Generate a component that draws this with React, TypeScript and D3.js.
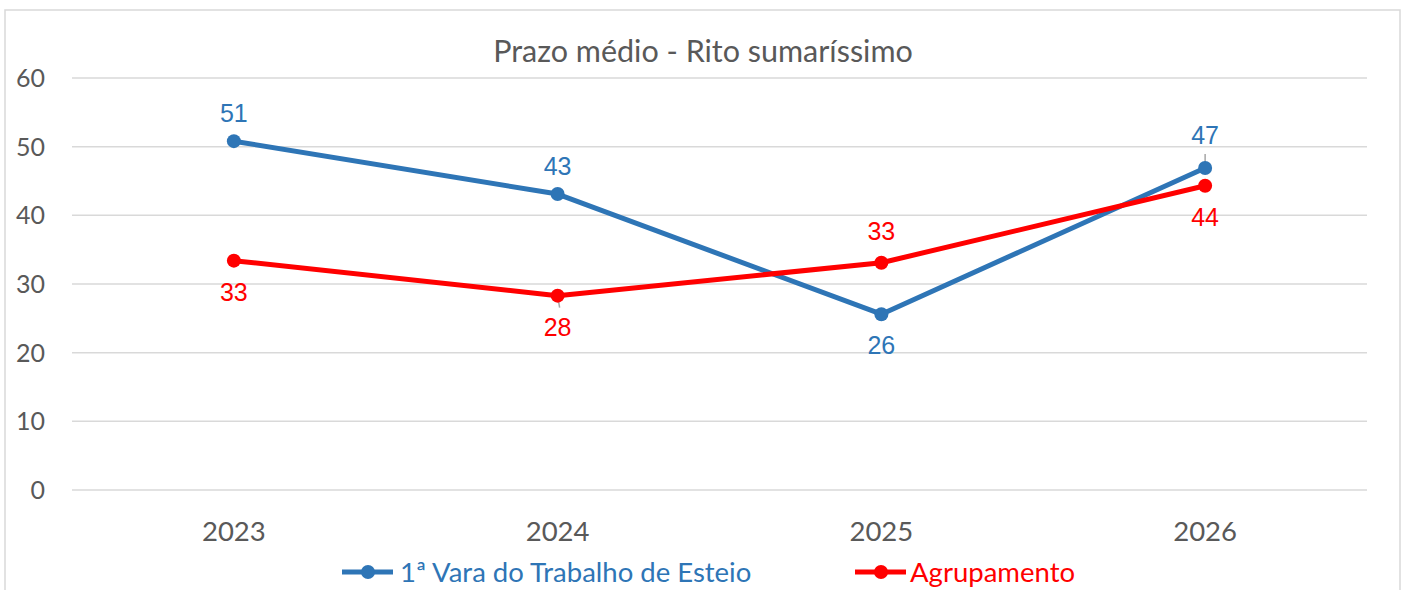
import React from "react";
import * as d3 from "d3";

const categories = ["2023", "2024", "2025", "2026"];
const seriesNames = ["1ª Vara do Trabalho de Esteio", "Agrupamento"];
const varaValues = [50.8, 43.1, 25.6, 46.9];
const agrupValues = [33.4, 28.3, 33.1, 44.3];
const varaLabels = ["51", "43", "26", "47"];
const agrupLabels = ["33", "28", "33", "44"];
const varaLabelPos = ["above", "above", "below", "above"];
const agrupLabelPos = ["below", "below", "above", "below"];
const yTicks = [0, 10, 20, 30, 40, 50, 60];
const title = "Prazo médio - Rito sumaríssimo";

const W = 1405, H = 590;
const BLUE = "#2E75B6", RED = "#FF0000", GRAY = "#595959";
const axisFont = "Lato, 'Open Sans', sans-serif";
const labelFont = "'Liberation Sans', Arial, sans-serif";

export default function App() {
  const x = d3.scaleBand().domain(categories).range([72, 1367]);
  const y = d3.scaleLinear().domain([0, 60]).range([490, 78]);
  const cx = (c: string) => (x(c) as number) + x.bandwidth() / 2;
  const line = d3.line<number>().x((_, i) => cx(categories[i])).y((v) => y(v));
  const labelY = (v: number, pos: string) => (pos === "below" ? y(v) + 40 : y(v) - 19);

  return (
    <div style={{ position: "fixed", left: 0, top: 0 }}>
      <svg width={W} height={H} style={{ display: "block", background: "#fff" }}>
        <rect x={5} y={10} width={1395} height={600} fill="#fff" stroke="#D9D9D9" strokeWidth={1.5} />
        <text x={703} y={62} textAnchor="middle" fontFamily={axisFont} fontSize={30.5} fill={GRAY}>{title}</text>
        {yTicks.map((t) => (
          <g key={t}>
            <line x1={72} x2={1367} y1={y(t)} y2={y(t)} stroke="#D9D9D9" strokeWidth={1.5} />
            <text x={45} y={y(t) + 9} textAnchor="end" fontFamily={axisFont} fontSize={25} fill={GRAY}>{t}</text>
          </g>
        ))}
        {categories.map((c) => (
          <text key={c} x={cx(c)} y={541} textAnchor="middle" fontFamily={axisFont} fontSize={27.5} fill={GRAY}>{c}</text>
        ))}
        {/* leader lines */}
        <line x1={cx("2024")} x2={cx("2024") + 2} y1={y(agrupValues[1])} y2={y(agrupValues[1]) + 12} stroke="#A6A6A6" strokeWidth={1.5} />
        <line x1={cx("2026")} x2={cx("2026")} y1={y(varaValues[3]) - 14} y2={y(varaValues[3])} stroke="#A6A6A6" strokeWidth={1.5} />
        <path d={line(varaValues) || ""} fill="none" stroke={BLUE} strokeWidth={5} strokeLinejoin="round" />
        <path d={line(agrupValues) || ""} fill="none" stroke={RED} strokeWidth={5} strokeLinejoin="round" />
        {varaValues.map((v, i) => (
          <circle key={"b" + i} cx={cx(categories[i])} cy={y(v)} r={7} fill={BLUE} />
        ))}
        {agrupValues.map((v, i) => (
          <circle key={"r" + i} cx={cx(categories[i])} cy={y(v)} r={7} fill={RED} />
        ))}
        {varaValues.map((v, i) => (
          <text key={"bl" + i} x={cx(categories[i])} y={labelY(v, varaLabelPos[i]) + (i === 3 ? -5 : 0)} textAnchor="middle" fontFamily={labelFont} fontSize={25} fill={BLUE}>{varaLabels[i]}</text>
        ))}
        {agrupValues.map((v, i) => (
          <text key={"rl" + i} x={cx(categories[i])} y={labelY(v, agrupLabelPos[i]) + (agrupLabelPos[i] === "above" ? -4 : 0)} textAnchor="middle" fontFamily={labelFont} fontSize={25} fill={RED}>{agrupLabels[i]}</text>
        ))}
        {/* legend */}
        <line x1={342} x2={393} y1={572} y2={572} stroke={BLUE} strokeWidth={5} />
        <circle cx={368} cy={572} r={7} fill={BLUE} />
        <text x={400} y={582} fontFamily={axisFont} fontSize={27.5} fill={BLUE}>{seriesNames[0]}</text>
        <line x1={855} x2={906} y1={572} y2={572} stroke={RED} strokeWidth={5} />
        <circle cx={881} cy={572} r={7} fill={RED} />
        <text x={910} y={582} fontFamily={axisFont} fontSize={27.5} fill={RED}>{seriesNames[1]}</text>
      </svg>
    </div>
  );
}
